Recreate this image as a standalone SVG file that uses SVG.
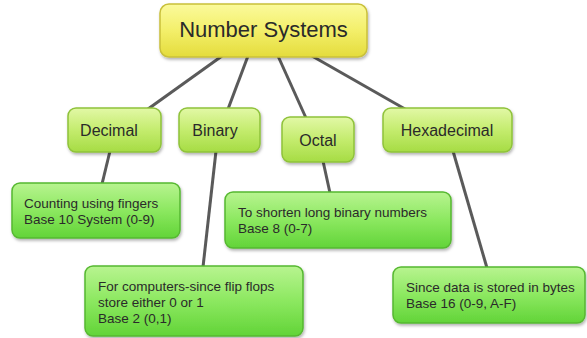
<svg xmlns="http://www.w3.org/2000/svg" width="587" height="338" viewBox="0 0 587 338">
<defs>
<linearGradient id="gY" x1="0" y1="0" x2="0" y2="1"><stop offset="0" stop-color="#fbfa9c"/><stop offset="0.5" stop-color="#f3ef6a"/><stop offset="1" stop-color="#e4dc3c"/></linearGradient>
<linearGradient id="gL" x1="0" y1="0" x2="0" y2="1"><stop offset="0" stop-color="#e2f8a6"/><stop offset="0.5" stop-color="#c4ec6e"/><stop offset="1" stop-color="#a6dc44"/></linearGradient>
<linearGradient id="gG" x1="0" y1="0" x2="0" y2="1"><stop offset="0" stop-color="#b8f490"/><stop offset="0.5" stop-color="#8ce860"/><stop offset="1" stop-color="#62d438"/></linearGradient>
<filter id="sh" x="-10%" y="-10%" width="125%" height="135%"><feDropShadow dx="1" dy="2" stdDeviation="1.5" flood-color="#000" flood-opacity="0.3"/></filter>
</defs>
<style>
.root{fill:url(#gY);stroke:#c9c03a;stroke-width:1.5;filter:url(#sh)}
.mid{fill:url(#gL);stroke:#8fc23a;stroke-width:1.5;filter:url(#sh)}
.leaf{fill:url(#gG);stroke:#56b830;stroke-width:1.5;filter:url(#sh)}
text{font-family:"Liberation Sans",Arial,sans-serif;fill:#2a2a2a}
.t1{font-size:22px}
.t2{font-size:16px}
.t3{font-size:13.5px}
.c{stroke:#5a5a5a;stroke-width:3;fill:none}
</style>
<g id="connectors">
<line class="c" x1="222" y1="56" x2="148" y2="109"/>
<line class="c" x1="248" y1="56" x2="228" y2="109"/>
<line class="c" x1="278" y1="56" x2="306" y2="118"/>
<line class="c" x1="312" y1="56" x2="405" y2="109"/>
<line class="c" x1="110" y1="151" x2="102" y2="184"/>
<line class="c" x1="216" y1="151" x2="203" y2="267"/>
<line class="c" x1="323" y1="161" x2="330" y2="193"/>
<line class="c" x1="453" y1="151" x2="487" y2="268"/>
</g>
<g id="root">
<rect class="root" x="160" y="4" width="207" height="53" rx="9"/>
<text class="t1" x="263.5" y="37" text-anchor="middle">Number Systems</text>
</g>
<g id="decimal">
<rect class="mid" x="68" y="108" width="93" height="44" rx="8"/>
<text class="t2" x="109" y="136" text-anchor="middle">Decimal</text>
</g>
<g id="binary">
<rect class="mid" x="179" y="108" width="81" height="44" rx="8"/>
<text class="t2" x="215" y="136" text-anchor="middle">Binary</text>
</g>
<g id="octal">
<rect class="mid" x="282" y="117" width="72" height="45" rx="8"/>
<text class="t2" x="318" y="146" text-anchor="middle">Octal</text>
</g>
<g id="hexadecimal">
<rect class="mid" x="383" y="108" width="129" height="44" rx="8"/>
<text class="t2" x="447" y="136" text-anchor="middle">Hexadecimal</text>
</g>
<g id="decimal-note">
<rect class="leaf" x="12" y="183" width="168" height="55" rx="8"/>
<text class="t3" x="24" y="208">Counting using fingers</text>
<text class="t3" x="24" y="224">Base 10 System (0-9)</text>
</g>
<g id="octal-note">
<rect class="leaf" x="225" y="192" width="226" height="56" rx="8"/>
<text class="t3" x="238" y="217">To shorten long binary numbers</text>
<text class="t3" x="238" y="233">Base 8 (0-7)</text>
</g>
<g id="binary-note">
<rect class="leaf" x="85" y="266" width="218" height="70" rx="8"/>
<text class="t3" x="98" y="291">For computers-since flip flops</text>
<text class="t3" x="98" y="307">store either 0 or 1</text>
<text class="t3" x="98" y="323">Base 2 (0,1)</text>
</g>
<g id="hexadecimal-note">
<rect class="leaf" x="393" y="267" width="192" height="56" rx="8"/>
<text class="t3" x="406" y="292">Since data is stored in bytes</text>
<text class="t3" x="406" y="308">Base 16 (0-9, A-F)</text>
</g>
</svg>
